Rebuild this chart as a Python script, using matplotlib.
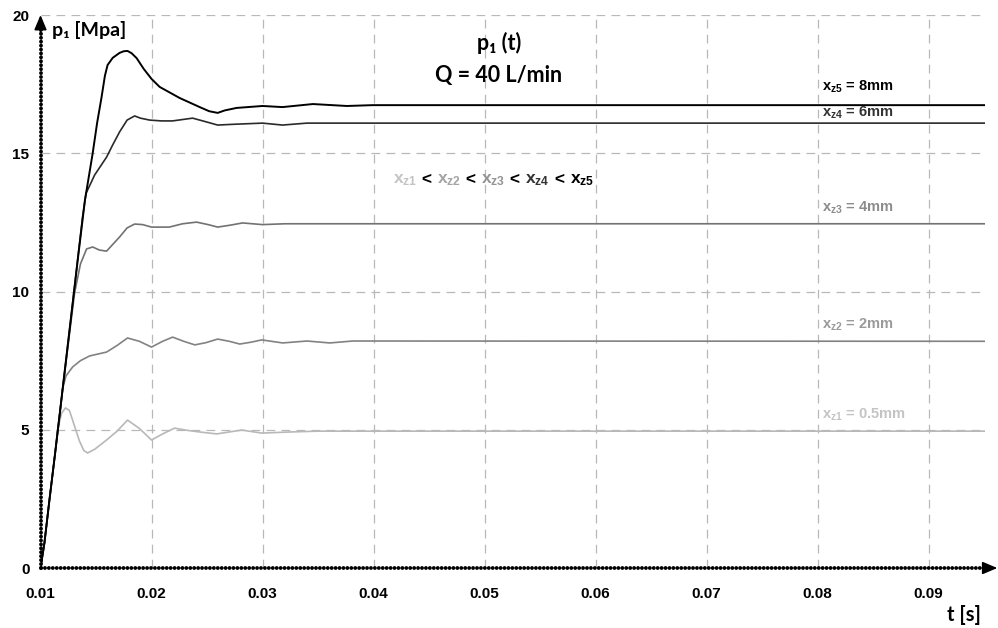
import matplotlib
matplotlib.use("Agg")
import matplotlib.pyplot as plt
from matplotlib.offsetbox import TextArea, HPacker, AnnotationBbox

plt.rcParams["mathtext.fontset"] = "custom"
plt.rcParams["mathtext.rm"] = "Liberation Sans:bold"
plt.rcParams["mathtext.it"] = "Liberation Sans:bold"
plt.rcParams["mathtext.bf"] = "Liberation Sans:bold"

# pressure p1 [MPa] vs time t [s]
t_8mm = [0.0100, 0.01035, 0.0108, 0.0113, 0.0120, 0.0127, 0.0134, 0.0140, 0.0147, 0.0151, 0.0155, 0.0158,
         0.01604, 0.0165, 0.01712, 0.0175, 0.01784, 0.0182, 0.01866, 0.0193, 0.0200, 0.02073, 0.02253, 0.02434,
         0.0252, 0.02596, 0.0266, 0.02767, 0.0300, 0.0318, 0.03454, 0.0376, 0.0399, 0.0951]
p_8mm = [0, 0.9, 2.45, 4.1, 6.5, 8.9, 11.3, 13.3, 15.0, 16.1, 17.03, 17.8,
         18.19, 18.45, 18.63, 18.69, 18.7, 18.62, 18.44, 18.05, 17.69, 17.4, 17.0, 16.67,
         16.52, 16.46, 16.55, 16.64, 16.71, 16.67, 16.78, 16.71, 16.74, 16.74]

t_6mm = [0.0100, 0.01035, 0.0108, 0.0113, 0.0120, 0.0127, 0.0133, 0.01379, 0.0141, 0.01487, 0.01595,
         0.0165, 0.01712, 0.0178, 0.01848, 0.0190, 0.01983, 0.0209, 0.0219, 0.0237, 0.0248, 0.02596,
         0.0275, 0.0300, 0.0318, 0.0340, 0.0951]
p_6mm = [0, 0.9, 2.45, 4.1, 6.5, 8.9, 11.0, 12.7, 13.55, 14.21, 14.86,
         15.3, 15.77, 16.2, 16.35, 16.27, 16.2, 16.17, 16.17, 16.27, 16.15, 16.02,
         16.05, 16.09, 16.02, 16.09, 16.09]

t_4mm = [0.0100, 0.01035, 0.0108, 0.0113, 0.0120, 0.01307, 0.0136, 0.01415, 0.0147, 0.0153, 0.01595,
         0.0165, 0.01712, 0.0178, 0.01848, 0.0192, 0.0200, 0.0216, 0.0228, 0.02406, 0.0251, 0.02596,
         0.0271, 0.0282, 0.0300, 0.0320, 0.0951]
p_4mm = [0, 0.9, 2.45, 4.1, 6.5, 9.95, 11.0, 11.54, 11.61, 11.5, 11.46,
         11.7, 11.97, 12.3, 12.44, 12.42, 12.33, 12.33, 12.45, 12.51, 12.42, 12.33,
         12.4, 12.48, 12.42, 12.45, 12.45]

t_2mm = [0.0100, 0.01035, 0.0108, 0.0113, 0.0117, 0.0120, 0.0123, 0.01289, 0.0136, 0.01442, 0.01595,
         0.0169, 0.01784, 0.0189, 0.0200, 0.0210, 0.0219, 0.0229, 0.0239, 0.0249, 0.02596, 0.0270,
         0.02795, 0.0290, 0.02993, 0.03182, 0.0340, 0.03606, 0.03813, 0.0951]
p_2mm = [0, 0.9, 2.45, 4.1, 5.4, 6.5, 6.95, 7.27, 7.5, 7.67, 7.81,
         8.05, 8.32, 8.2, 7.99, 8.2, 8.35, 8.2, 8.07, 8.15, 8.28, 8.2,
         8.1, 8.17, 8.25, 8.14, 8.21, 8.14, 8.21, 8.2]

t_05mm = [0.0100, 0.01035, 0.0108, 0.0113, 0.01153, 0.0119, 0.01225, 0.0126, 0.01289, 0.0135, 0.0139,
          0.01424, 0.0149, 0.01595, 0.0169, 0.01784, 0.0189, 0.0200, 0.0210, 0.02208, 0.0232, 0.02434,
          0.02587, 0.0270, 0.02813, 0.02993, 0.03245, 0.0350, 0.0951]
p_05mm = [0, 0.9, 2.45, 4.1, 4.99, 5.6, 5.79, 5.7, 5.35, 4.6, 4.25,
          4.16, 4.3, 4.63, 4.95, 5.35, 5.05, 4.63, 4.85, 5.06, 4.98, 4.92,
          4.85, 4.92, 4.99, 4.88, 4.92, 4.95, 4.95]

x_ticks = [0.01, 0.02, 0.03, 0.04, 0.05, 0.06, 0.07, 0.08, 0.09]
y_ticks = [0, 5, 10, 15, 20]

series = [
    (t_05mm, p_05mm, "#b8b8b8", "#c4c4c4", "x$_{z1}$ = 0.5mm", 5.55),
    (t_2mm, p_2mm, "#828282", "#9a9a9a", "x$_{z2}$ = 2mm", 8.8),
    (t_4mm, p_4mm, "#727272", "#8c8c8c", "x$_{z3}$ = 4mm", 13.02),
    (t_6mm, p_6mm, "#2a2a2a", "#333333", "x$_{z4}$ = 6mm", 16.48),
    (t_8mm, p_8mm, "#000000", "#000000", "x$_{z5}$ = 8mm", 17.4),
]

fig = plt.figure(figsize=(9.98, 6.28), dpi=100)
ax = fig.add_axes([0.0406, 0.0955, 0.9464, 0.8806])
ax.set_xlim(0.01, 0.09509)
ax.set_ylim(0, 20)
for s in ax.spines.values():
    s.set_visible(False)

ax.set_xticks(x_ticks)
ax.set_yticks(y_ticks)
ax.set_xticklabels([f"{v:.2f}" for v in x_ticks])
ax.tick_params(length=0, labelsize=11)
ax.tick_params(axis="x", pad=14)
ax.tick_params(axis="y", pad=8)
for lab in ax.get_xticklabels() + ax.get_yticklabels():
    lab.set_fontfamily("Liberation Sans")
    lab.set_fontweight("bold")
ax.grid(True, color="#b8b8b8", linestyle=(0, (7, 5)), linewidth=0.9)
ax.set_axisbelow(True)

for t, p, c, lc, lab, ly in series:
    ax.plot(t, p, color=c, linewidth=1.4 if c == "#000000" else 1.2, zorder=3)
    ax.text(0.0804, ly, lab, color=lc, fontsize=10.5, fontweight="bold",
            family="Liberation Sans", va="center", ha="left")

# dotted axes with arrow heads
dots = dict(color="black", linewidth=2.8, linestyle=(0, (0.01, 1.0)),
            dash_capstyle="round", clip_on=False, zorder=5)
ax.plot([0.01, 0.01], [0, 19.5], **dots)
ax.plot([0.01, 0.0956], [0, 0], **dots)
head = dict(arrowstyle="-|>,head_length=0.9,head_width=0.38", color="black", lw=1.2,
            shrinkA=0, shrinkB=0)
ax.annotate("", xy=(0.01, 20.0), xytext=(0.01, 19.3), arrowprops=head, annotation_clip=False)
ax.annotate("", xy=(0.0962, 0), xytext=(0.0954, 0), arrowprops=head, annotation_clip=False)

calibri = ["Lato", "DejaVu Sans"]
ax.text(0.01104, 19.45, "p₁ [Mpa]", fontsize=14, fontweight="bold", family=calibri, va="center")
ax.text(0.0932, -1.7, "t [s]", fontsize=14.5, fontweight="bold", family=calibri, va="center", ha="center")
ax.text(0.0513, 19.0, "p₁ (t)", fontsize=15.5, fontweight="bold", family=calibri, va="center", ha="center")
ax.text(0.0513, 17.8, "Q = 40 L/min", fontsize=15.5, fontweight="bold", family=calibri, va="center", ha="center")

# coloured ordering text
parts = [("x$_{z1}$", "#c4c4c4"), (" < ", "black"), ("x$_{z2}$", "#a4a4a4"), (" < ", "black"),
         ("x$_{z3}$", "#949494"), (" < ", "black"), ("x$_{z4}$", "#333333"), (" < ", "black"),
         ("x$_{z5}$", "black")]
areas = [TextArea(s, textprops=dict(color=c, fontsize=12.5, fontweight="bold", family="Liberation Sans"))
         for s, c in parts]
box = HPacker(children=areas, align="baseline", pad=0, sep=0)
ab = AnnotationBbox(box, (0.04176, 14.03), xycoords="data", frameon=False, box_alignment=(0, 0.5))
ax.add_artist(ab)

fig.savefig("out.png", dpi=100)
